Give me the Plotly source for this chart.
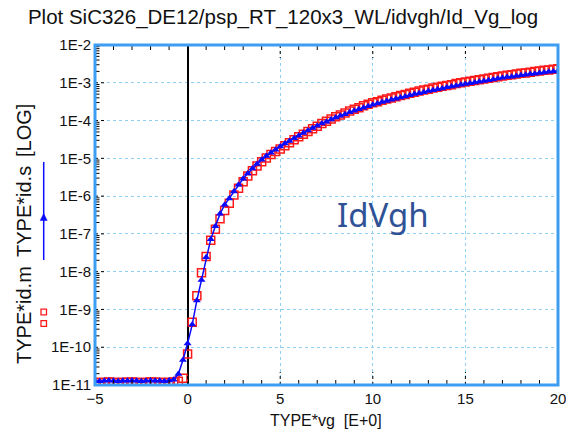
import math
import plotly.graph_objects as go

# Gate sweep (V)
vg = [
    -5.00, -4.75, -4.50, -4.25, -4.00, -3.75, -3.50, -3.25, -3.00, -2.75,
    -2.50, -2.25, -2.00, -1.75, -1.50, -1.25, -1.00, -0.75, -0.50, -0.25,
    0.00, 0.25, 0.50, 0.75, 1.00, 1.25, 1.50, 1.75, 2.00, 2.25,
    2.50, 2.75, 3.00, 3.25, 3.50, 3.75, 4.00, 4.25, 4.50, 4.75,
    5.00, 5.25, 5.50, 5.75, 6.00, 6.25, 6.50, 6.75, 7.00, 7.25,
    7.50, 7.75, 8.00, 8.25, 8.50, 8.75, 9.00, 9.25, 9.50, 9.75,
    10.00, 10.25, 10.50, 10.75, 11.00, 11.25, 11.50, 11.75, 12.00, 12.25,
    12.50, 12.75, 13.00, 13.25, 13.50, 13.75, 14.00, 14.25, 14.50, 14.75,
    15.00, 15.25, 15.50, 15.75, 16.00, 16.25, 16.50, 16.75, 17.00, 17.25,
    17.50, 17.75, 18.00, 18.25, 18.50, 18.75, 19.00, 19.25, 19.50, 19.75,
    20.00,
]

# Measured drain current, log10(A)
id_m_log = [
    -10.93, -10.94, -10.93, -10.92, -10.93, -10.94, -10.93, -10.93, -10.92, -10.93,
    -10.94, -10.93, -10.92, -10.93, -10.93, -10.94, -10.93, -10.92, -10.90, -10.82,
    -10.18, -9.34, -8.64, -8.03, -7.60, -7.17, -6.88, -6.60, -6.38, -6.19,
    -5.97, -5.79, -5.62, -5.47, -5.33, -5.20, -5.09, -4.99, -4.90, -4.82,
    -4.75, -4.67, -4.59, -4.51, -4.43, -4.36, -4.29, -4.22, -4.15, -4.08,
    -4.02, -3.96, -3.90, -3.85, -3.80, -3.75, -3.70, -3.66, -3.61, -3.57,
    -3.53, -3.50, -3.46, -3.43, -3.40, -3.37, -3.34, -3.31, -3.28, -3.25,
    -3.22, -3.19, -3.17, -3.14, -3.12, -3.09, -3.07, -3.05, -3.02, -3.00,
    -2.98, -2.96, -2.94, -2.92, -2.90, -2.88, -2.86, -2.84, -2.82, -2.80,
    -2.79, -2.77, -2.75, -2.74, -2.72, -2.70, -2.69, -2.67, -2.66, -2.64,
    -2.63,
]

# Simulated drain current, log10(A)
id_s_log = [
    -10.89, -10.90, -10.89, -10.88, -10.89, -10.90, -10.89, -10.89, -10.88, -10.89,
    -10.90, -10.89, -10.88, -10.89, -10.89, -10.90, -10.88, -10.86, -10.71, -10.34,
    -9.90, -9.40, -8.76, -8.22, -7.62, -7.14, -6.80, -6.47, -6.23, -6.06,
    -5.88, -5.70, -5.54, -5.40, -5.27, -5.15, -5.04, -4.94, -4.85, -4.77,
    -4.69, -4.61, -4.54, -4.47, -4.40, -4.33, -4.26, -4.20, -4.14, -4.08,
    -4.03, -3.97, -3.92, -3.87, -3.83, -3.78, -3.74, -3.70, -3.66, -3.62,
    -3.58, -3.55, -3.51, -3.48, -3.45, -3.42, -3.39, -3.36, -3.33, -3.30,
    -3.28, -3.25, -3.22, -3.20, -3.17, -3.15, -3.12, -3.10, -3.08, -3.05,
    -3.03, -3.01, -2.99, -2.97, -2.95, -2.93, -2.91, -2.89, -2.87, -2.85,
    -2.84, -2.82, -2.80, -2.79, -2.77, -2.76, -2.74, -2.73, -2.71, -2.70,
    -2.69,
]

x_ticks = [-5, 0, 5, 10, 15, 20]
y_decades = [-2, -3, -4, -5, -6, -7, -8, -9, -10, -11]
y_tick_text = ["1E-2", "1E-3", "1E-4", "1E-5", "1E-6", "1E-7", "1E-8", "1E-9", "1E-10", "1E-11"]

X_RANGE = (-5, 20)
Y_RANGE = (-11, -2)  # decades

id_m = [10.0 ** v for v in id_m_log]
id_s = [10.0 ** v for v in id_s_log]
y_tick_vals = [10.0 ** d for d in y_decades]

W, H = 566, 437
L, R, T, B = 95, 8, 45, 52
PW, PH = W - L - R, H - T - B


def px(xp):
    return (xp - L) / PW


def py(yp):
    return (H - B - yp) / PH


def y_paper(value):
    return (math.log10(value) - Y_RANGE[0]) / (Y_RANGE[1] - Y_RANGE[0])


FRAME = "#3d9df2"
GRID = "#8fd0f2"
FONT = "Liberation Sans, Arial, sans-serif"
INK = "#111111"

fig = go.Figure()
fig.add_trace(go.Scatter(
    x=vg, y=id_m, mode="markers", name="TYPE*id.m",
    marker=dict(symbol="square-open", size=8, color="#ff1a1a", line=dict(width=1.5)),
))
fig.add_trace(go.Scatter(
    x=vg, y=id_s, mode="lines+markers", name="TYPE*id.s",
    line=dict(color="#0a0aff", width=1.5),
    marker=dict(symbol="triangle-up", size=7, color="#0a0aff"),
))

fig.update_layout(
    width=W, height=H,
    margin=dict(l=L, r=R, t=T, b=B),
    plot_bgcolor="white",
    showlegend=False,
    title=dict(
        text="Plot SiC326_DE12/psp_RT_120x3_WL/idvgh/Id_Vg_log",
        x=0.5, xref="container", xanchor="center",
        y=1 - 17 / H, yref="container", yanchor="middle",
        font=dict(size=20.5, family=FONT, color=INK),
    ),
    xaxis=dict(
        range=list(X_RANGE), tickmode="array", tickvals=x_ticks,
        automargin=False, ticklabeloverflow="allow",
        tickfont=dict(size=15, family=FONT, color=INK),
        ticklabelstandoff=3,
        gridcolor=GRID, griddash="dot",
        zeroline=True, zerolinecolor="black", zerolinewidth=1.5,
    ),
    yaxis=dict(
        type="log", range=list(Y_RANGE), tickmode="array",
        tickvals=y_tick_vals, ticktext=y_tick_text,
        automargin=False,
        tickfont=dict(size=15, family=FONT, color=INK),
        ticklabelstandoff=3,
        gridcolor=GRID, griddash="dot",
    ),
)

# inside tick marks: solid minor ticks, dotted major ticks
for v in range(X_RANGE[0] + 1, X_RANGE[1]):
    major = v % 5 == 0
    ln = (13 if major else 5) / PH
    style = dict(color="black", width=1, dash="dot" if major else "solid")
    fig.add_shape(type="line", xref="x", yref="paper", x0=v, x1=v, y0=0, y1=ln,
                  line=style, layer="above")
    fig.add_shape(type="line", xref="x", yref="paper", x0=v, x1=v, y0=1, y1=1 - ln,
                  line=style, layer="above")
for d in range(Y_RANGE[0], Y_RANGE[1]):
    if d > Y_RANGE[0]:
        yp = y_paper(10.0 ** d)
        fig.add_shape(type="line", xref="paper", yref="paper", x0=0, x1=9 / PW,
                      y0=yp, y1=yp, line=dict(color="black", width=1, dash="dot"),
                      layer="above")
    for k in range(2, 10):
        yp = y_paper(k * 10.0 ** d)
        fig.add_shape(type="line", xref="paper", yref="paper", x0=0, x1=4.5 / PW,
                      y0=yp, y1=yp, line=dict(color="black", width=1), layer="above")

# plot frame
fig.add_shape(type="rect", xref="paper", yref="paper", x0=0, x1=1, y0=0, y1=1,
              line=dict(color=FRAME, width=3), layer="above")

# legend glyphs beside the axis title
for yc in (312, 323.5):
    fig.add_shape(type="rect", xref="paper", yref="paper",
                  x0=px(41), x1=px(46.5), y0=py(yc + 2.8), y1=py(yc - 2.8),
                  line=dict(color="#ff1a1a", width=1.3))
fig.add_shape(type="line", xref="paper", yref="paper",
              x0=px(43.7), x1=px(43.7), y0=py(162), y1=py(260),
              line=dict(color="#0a0aff", width=1.5))
fig.add_shape(type="path", xref="paper", yref="paper",
              path=f"M {px(40.2)} {py(220.5)} L {px(47.2)} {py(220.5)} L {px(43.7)} {py(213.5)} Z",
              fillcolor="#0a0aff", line=dict(color="#0a0aff", width=0.5))

ann_font = dict(size=20, family=FONT, color=INK)
fig.add_annotation(text="TYPE*id.m", xref="paper", yref="paper", x=px(24), y=py(315),
                   textangle=-90, showarrow=False, font=ann_font,
                   xanchor="center", yanchor="middle")
fig.add_annotation(text="TYPE*id.s", xref="paper", yref="paper", x=px(24), y=py(212),
                   textangle=-90, showarrow=False, font=ann_font,
                   xanchor="center", yanchor="middle")
fig.add_annotation(text="[LOG]", xref="paper", yref="paper", x=px(24), y=py(131),
                   textangle=-90, showarrow=False, font=ann_font,
                   xanchor="center", yanchor="middle")
fig.add_annotation(text="TYPE*vg  [E+0]", xref="paper", yref="paper", x=px(326), y=py(420),
                   showarrow=False, font=dict(size=16, family=FONT, color=INK),
                   xanchor="center", yanchor="middle")
fig.add_annotation(text="IdVgh", xref="paper", yref="paper", x=px(383), y=py(214),
                   showarrow=False, font=dict(size=33, family="Noto Sans, Open Sans, sans-serif",
                                              color="#2f5297"),
                   xanchor="center", yanchor="middle")

fig.write_html("out.html")
